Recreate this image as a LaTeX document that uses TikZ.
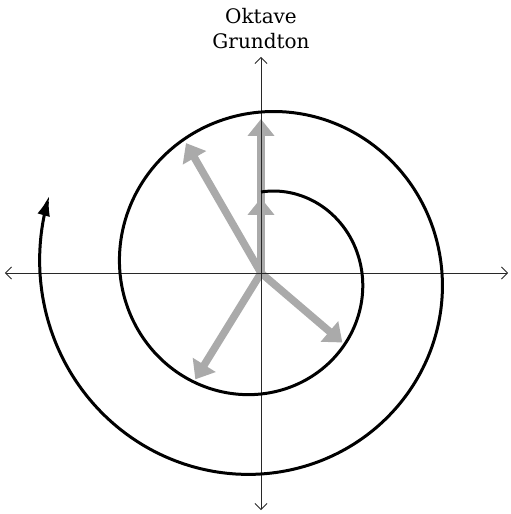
\documentclass[tikz,border=0pt]{standalone}
\usepackage{fontspec}
\setmainfont{DejaVu Serif}
\usetikzlibrary{arrows.meta}
\definecolor{vecgray}{RGB}{170,170,170}
\definecolor{axisc}{RGB}{40,40,40}
\tikzset{
  vec/.style={draw=vecgray, line width=7.5pt, -{Triangle[length=17pt,width=26pt]}},
  axis/.style={draw=axisc, line width=0.8pt, {Straight Barb[length=6pt,width=12pt]}-{Straight Barb[length=6pt,width=12pt]}},
  spiral/.style={draw=black, line width=3pt, -{Latex[length=20pt,width=13pt]}},
  lbl/.style={align=center, font=\fontsize{20}{25}\selectfont, inner sep=0pt}
}
\begin{document}
\begin{tikzpicture}[x=1pt,y=1pt]
\useasboundingbox (-261,-241) rectangle (250,273);
\coordinate (O) at (0,0);
\coordinate (L) at (-256,0);
\coordinate (R) at (247,0);
\coordinate (T) at (0,216);
\coordinate (B) at (0,-237);
\coordinate (v1) at (90:75);
\coordinate (v2) at (90:154);
\coordinate (v3) at (120:150);
\coordinate (v4) at (-40.5:107);
\coordinate (v5) at (-121.7:125);
% gray vectors
\draw[vec] (O) -- (v1);
\draw[vec] (O) -- (v2);
\draw[vec] (O) -- (v3);
\draw[vec] (O) -- (v4);
\draw[vec] (O) -- (v5);
% axes
\draw[axis] (L) -- (R);
\draw[axis] (B) -- (T);
% spiral
\draw[spiral] plot[domain=0:650,samples=260,smooth,variable=\t]
  ({(81+\t*2/9)*sin(\t)},{(81+\t*2/9)*cos(\t)});
% label
\node[lbl, anchor=south] (lab) at (0,224) {Oktave\\Grundton};
\end{tikzpicture}
\end{document}
